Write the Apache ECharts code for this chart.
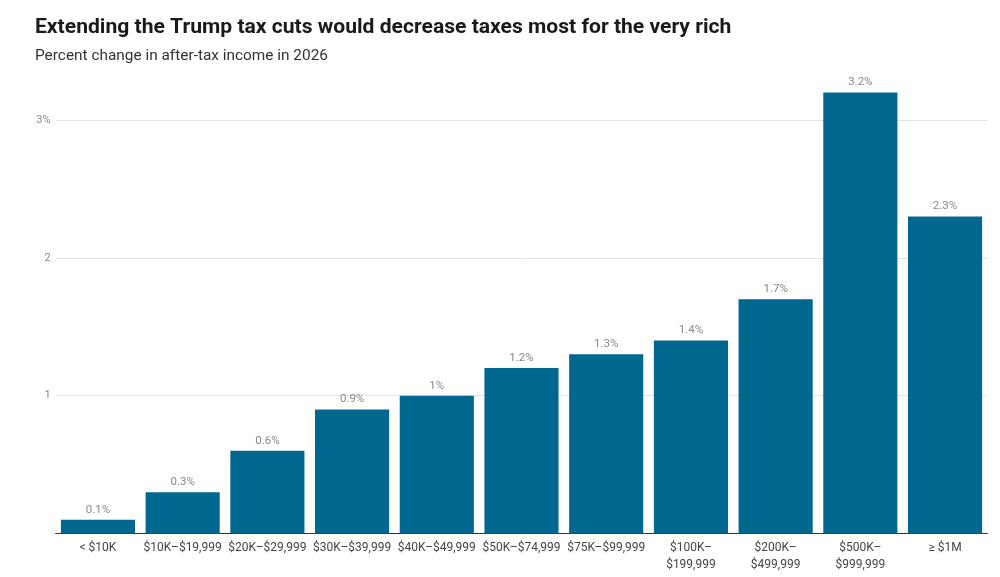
<!DOCTYPE html>
<html><head><meta charset="utf-8">
<script src="https://cdn.jsdelivr.net/npm/echarts@6/dist/echarts.min.js"></script>
<style>html,body{margin:0;padding:0;background:#fff}#c{width:1000px;height:577px}</style>
</head><body><div id="c"></div>
<script>
const categories = ['< $10K','$10K–$19,999','$20K–$29,999','$30K–$39,999','$40K–$49,999','$50K–$74,999','$75K–$99,999','$100K–\n$199,999','$200K–\n$499,999','$500K–\n$999,999','≥ $1M'];
const values = [0.1,0.3,0.6,0.9,1,1.2,1.3,1.4,1.7,3.2,2.3];
const yTickLabels = {0:'',1:'1',2:'2',3:'3%'};
const chart = echarts.init(document.getElementById('c'), null, {renderer:'canvas'});
chart.setOption({
  animation:false,
  textStyle:{fontFamily:'Roboto'},
  title:[
    {text:'Extending the Trump tax cuts would decrease taxes most for the very rich', left:30, top:12,
     textStyle:{fontFamily:'Roboto', fontWeight:'bold', fontSize:21.1, color:'#1a1a1a'}},
    {text:'Percent change in after-tax income in 2026', left:30, top:44,
     textStyle:{fontFamily:'Roboto', fontWeight:'normal', fontSize:15.4, color:'#333'}}
  ],
  grid:{left:55.6, right:12.6, top:78.7, bottom:43.5, containLabel:false},
  xAxis:{type:'category', data:categories,
    axisLine:{lineStyle:{color:'#333', width:1}}, axisTick:{show:false},
    axisLabel:{color:'#444', fontSize:12, margin:6, lineHeight:17, interval:0}},
  yAxis:{type:'value', min:0, max:3.3, interval:1,
    axisLine:{show:false}, axisTick:{show:false},
    axisLabel:{color:'#888', fontSize:11, margin:5, showMaxLabel:false,
      formatter:v=> (yTickLabels[v]!==undefined? yTickLabels[v] : '')},
    splitLine:{show:true, showMaxLine:false, lineStyle:{color:'#e3e3e3', width:1}}},
  series:[{type:'bar', data:values, barCategoryGap:'12.5%',
    itemStyle:{color:'#00688f'},
    label:{show:true, position:'top', distance:4, color:'#888', fontSize:11.5,
      formatter:p=>p.value+'%'}}]
});
</script></body></html>
